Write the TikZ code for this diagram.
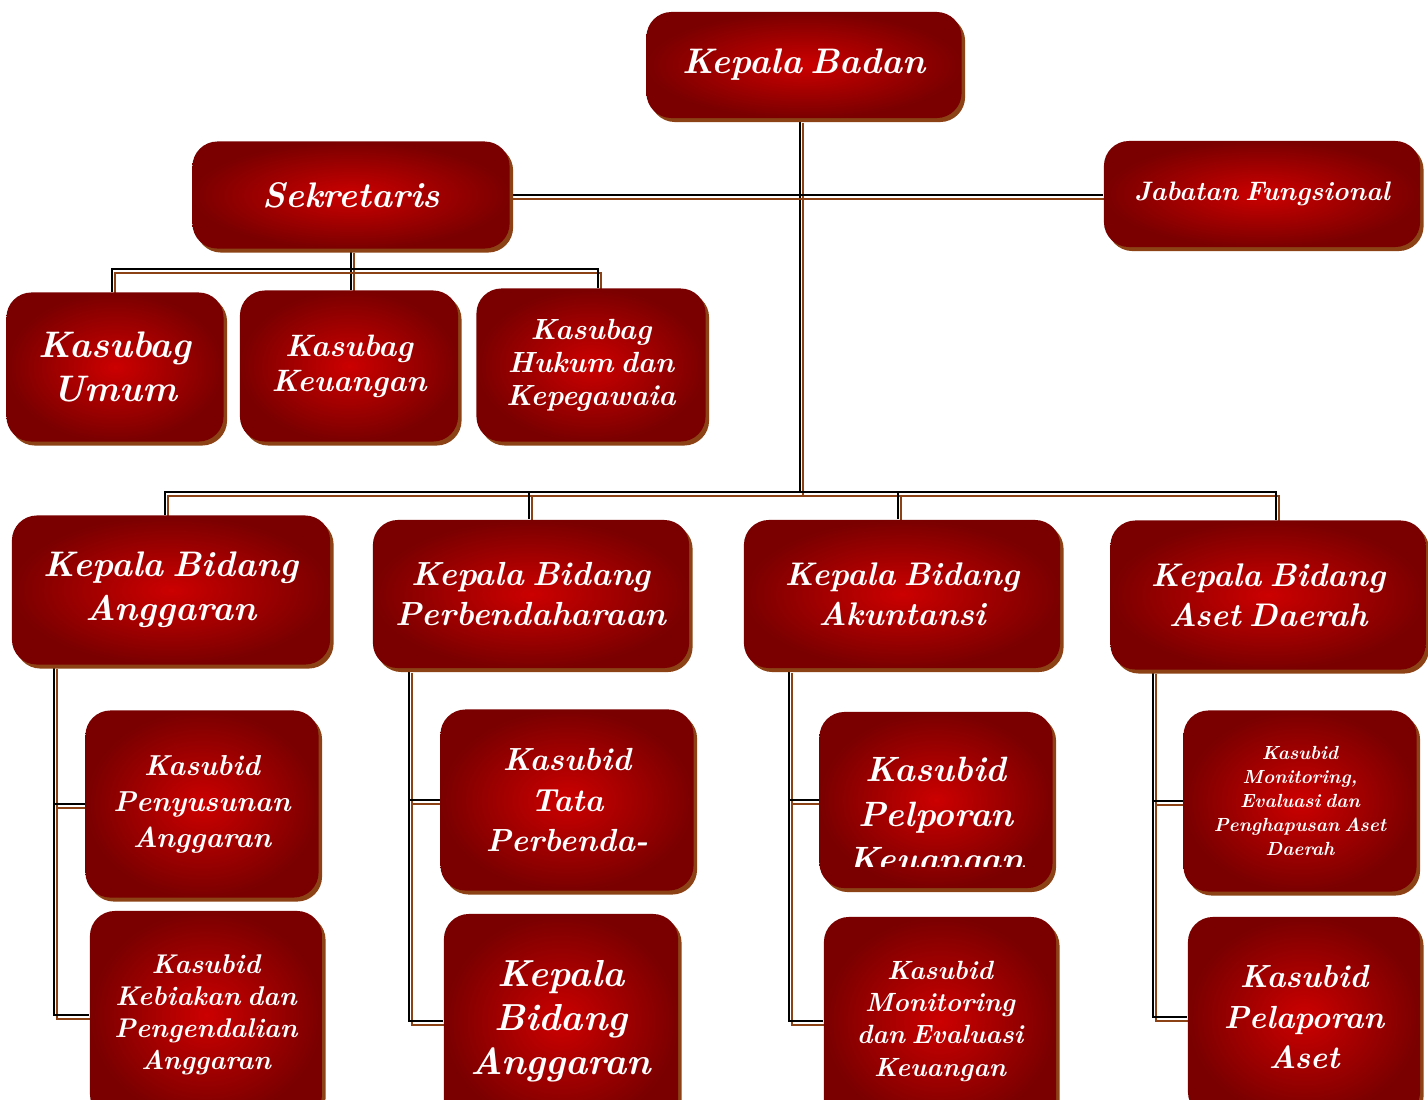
\documentclass[tikz,border=0pt]{standalone}
\usepackage{fontspec}
\usepackage{xcolor}
\usetikzlibrary{shadows,backgrounds}
\definecolor{boxinner}{RGB}{204,0,0}
\definecolor{boxouter}{RGB}{122,0,0}
\definecolor{boxshade}{RGB}{140,66,20}
\newcommand{\orgline}[1]{\draw[lineshade] #1; \draw[linemain] #1;}

\begin{document}
\begin{tikzpicture}[x=0.01cm, y=-0.01cm,
	box/.style={rounded corners=0.25cm, shading=radial, inner color=boxinner, outer color=boxouter,
		text=white, align=center, inner sep=0pt,
		drop shadow={shadow xshift=0.035cm, shadow yshift=-0.04cm, fill=boxshade, opacity=1}},
	fs/.style 2 args={font=\fontsize{#1}{#2}\selectfont\bfseries\itshape,
		execute at begin node={\spaceskip=0.25em\relax}},
	linemain/.style={draw=black, line width=0.8pt},
	lineshade/.style={draw=boxshade, line width=0.8pt, transform canvas={shift={(0.03cm,-0.04cm)}}}]
		\useasboundingbox (0,0) rectangle (1428,1099);
		
		\node[box, fs={10.1}{13}, minimum width=3.15cm, minimum height=1.06cm] (kb) at (804,65) {Kepala Badan};
		\node[box, fs={10.1}{13}, minimum width=3.17cm, minimum height=1.07cm] (sek) at (351,195) {Sekretaris};
		\node[box, fs={7.6}{10}, minimum width=3.16cm, minimum height=1.06cm] (jf) at (1262,194) {Jabatan Fungsional};
		
		\node[box, fs={10.5}{12.5}, minimum width=2.17cm, minimum height=1.49cm] (ku) at (115,367) {Kasubag\\Umum};
		\node[box, fs={8.8}{10}, minimum width=2.18cm, minimum height=1.51cm] (kk) at (349,366) {Kasubag\\Keuangan};
		\node[box, fs={8.3}{9.4}, minimum width=2.29cm, minimum height=1.53cm] (kh) at (591,365) {Kasubag\\Hukum dan\\Kepegawaia};
		
		\node[box, fs={10.1}{12.5}, minimum width=3.18cm, minimum height=1.49cm] (ba) at (171,590) {Kepala Bidang\\Anggaran};
		\node[box, fs={9.5}{11.5}, minimum width=3.16cm, minimum height=1.48cm] (bp) at (531,594) {Kepala Bidang\\Perbendaharaan};
		\node[box, fs={9.3}{11.5}, minimum width=3.16cm, minimum height=1.48cm] (bak) at (902,594) {Kepala Bidang\\Akuntansi};
		\node[box, fs={9.3}{11.5}, minimum width=3.15cm, minimum height=1.49cm] (bad) at (1268,595) {Kepala Bidang\\Aset Daerah};
		
		\node[box, fs={8.2}{10.2}, minimum width=2.33cm, minimum height=1.87cm] (s1) at (202,804) {Kasubid\\Penyusunan\\Anggaran};
		\node[box, fs={7.7}{9.1}, minimum width=2.32cm, minimum height=2.08cm] (s2) at (206,1015) {Kasubid\\Kebiakan dan\\Pengendalian\\Anggaran};
		\node[box, fs={9.1}{11.4}, minimum width=2.53cm, minimum height=1.81cm] (s3) at (567,800) {Kasubid\\Tata\\Perbenda-};
		\node[box, fs={10.7}{12.5}, minimum width=2.34cm, minimum height=2.14cm] (s4) at (561,1021) {Kepala\\Bidang\\Anggaran};
		\node[box, minimum width=2.33cm, minimum height=1.76cm] (s5) at (936,800) {};
		\node[box, fs={7.5}{9.2}, minimum width=2.32cm, minimum height=2.08cm] (s6) at (940,1021) {Kasubid\\Monitoring\\dan Evaluasi\\Keuangan};
		\node[box, fs={5.4}{6.8}, minimum width=2.33cm, minimum height=1.81cm] (s7) at (1300,801) {Kasubid\\Monitoring,\\Evaluasi dan\\Penghapusan Aset\\Daerah};
		\node[box, fs={9.1}{11.4}, minimum width=2.32cm, minimum height=2.00cm] (s8) at (1304,1017) {Kasubid\\Pelaporan\\Aset};
		
		\begin{scope}
			\clip (820,700) rectangle (1053,866);
			\node[fs={10}{12.8}, text=white, align=center] (s5t) at (936,818) {Kasubid\\Pelporan\\Keuangan};
		\end{scope}
		
		\begin{scope}[on background layer]
			\coordinate (j0) at (800,492);
			\coordinate (jc) at (351,269);
			\coordinate (ja) at (112,269);
			\coordinate (jb) at (598,269);
			\coordinate (d1) at (165,492);
			\coordinate (d2) at (529,492);
			\coordinate (d3) at (898,492);
			\coordinate (d4) at (1276,492);
			\coordinate (v1) at (54,0);
			\coordinate (v2) at (409,0);
			\coordinate (v3) at (789,0);
			\coordinate (v4) at (1153,0);
			
			\orgline{(kb.south -| j0) -- (j0)}
			\orgline{(sek.east) -- (sek.east -| jf.west)}
			\orgline{(sek.south -| jc) -- (jc |- kk.north)}
			\orgline{(ku.north -| ja) -- (ja) -- (jb) -- (jb |- kh.north)}
			\orgline{(ba.north -| d1) -- (d1) -- (d4) -- (bad.north -| d4)}
			\orgline{(d2) -- (d2 |- bp.north)}
			\orgline{(d3) -- (d3 |- bak.north)}
			
			\orgline{(ba.south -| v1) |- (s2.west)}
			\orgline{(v1 |- s1.west) -- (s1.west)}
			\orgline{(bp.south -| v2) |- (s4.west)}
			\orgline{(v2 |- s3.west) -- (s3.west)}
			\orgline{(bak.south -| v3) |- (s6.west)}
			\orgline{(v3 |- s5.west) -- (s5.west)}
			\orgline{(bad.south -| v4) |- (s8.west)}
			\orgline{(v4 |- s7.west) -- (s7.west)}
		\end{scope}
	\end{tikzpicture}
\end{document}
